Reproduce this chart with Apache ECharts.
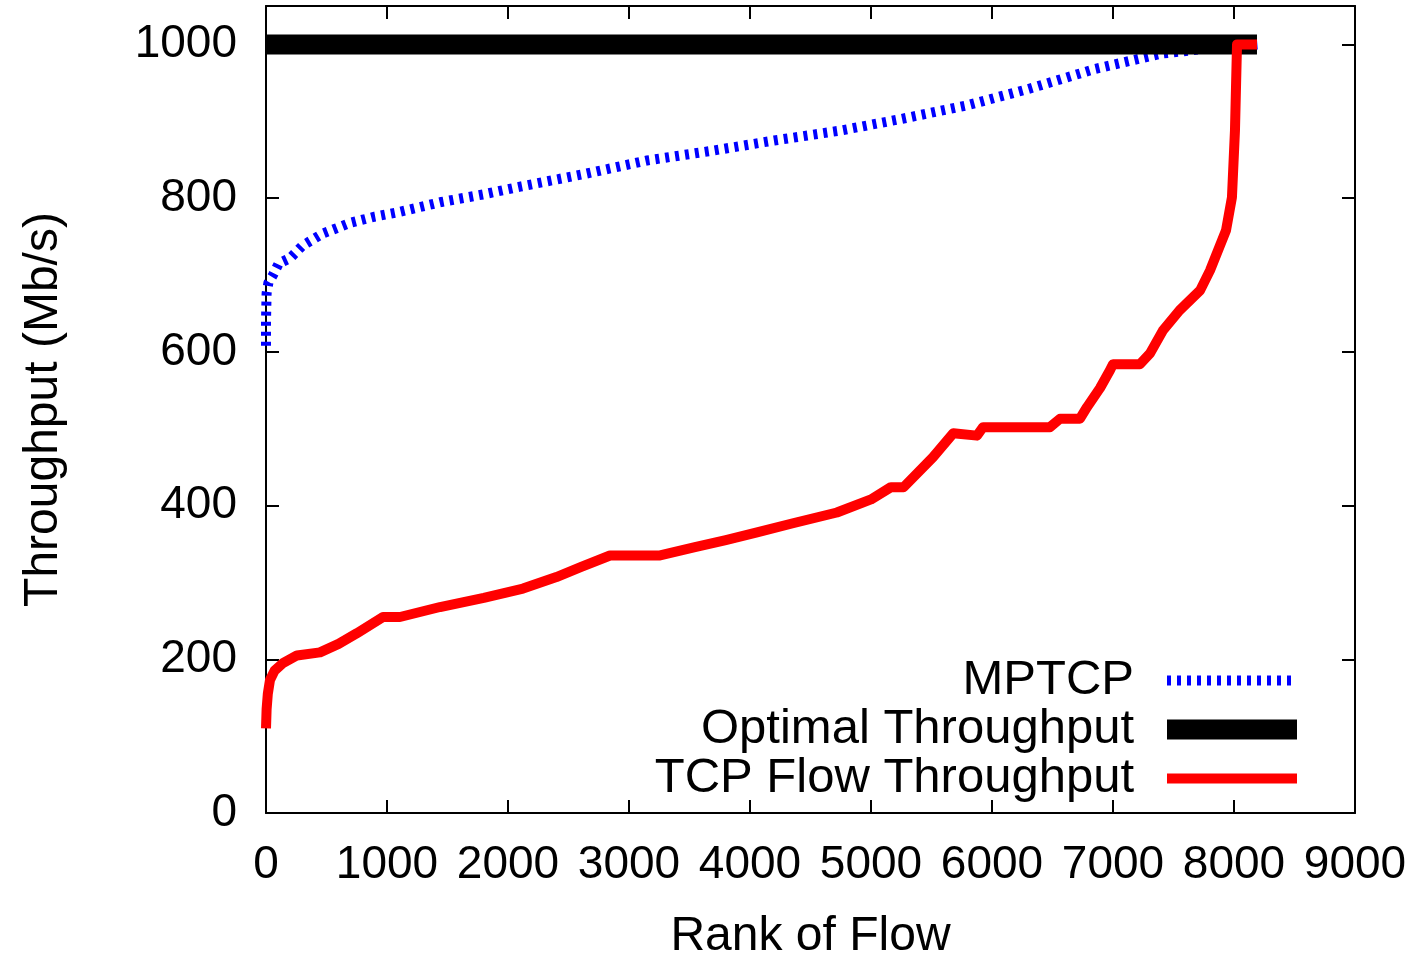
<!DOCTYPE html>
<html>
<head>
<meta charset="utf-8">
<title>Throughput by flow rank</title>
<script src="https://cdn.jsdelivr.net/npm/echarts@6/dist/echarts.min.js"></script>
<style>
  html, body { margin: 0; padding: 0; background: #fff; }
  #chart { width: 1422px; height: 954px; }
</style>
</head>
<body>
<div id="chart"></div>
<script>
// values
const mptcpRank = [0, 0, 5, 20, 58, 105, 200, 300, 470, 700, 900, 1100, 1450, 1800, 2100, 2650, 3150, 3700, 4200, 4750, 5250, 5800, 6300, 6850, 7400, 7800, 8200];
const mptcpThroughput = [608, 640, 676, 690, 700, 715, 722, 738, 754, 768, 776, 782, 795, 805, 815, 832, 849, 862, 875, 888, 903, 921, 942, 968, 988, 995, 1000];

const optimalRank = [0, 8190];
const optimalThroughput = [1000, 1000];

const tcpRank = [0, 5, 15, 33, 70, 140, 256, 446, 600, 752, 967, 1107, 1438, 1800, 2124, 2400, 2600, 2843, 3248, 3545, 3800, 4058, 4355, 4718, 5000, 5165, 5270, 5512, 5680, 5876, 5926, 6479, 6562, 6727, 6785, 6893, 6975, 7000, 7223, 7306, 7413, 7550, 7720, 7802, 7934, 7983, 8008, 8025, 8190];
const tcpThroughput = [110, 135, 155, 173, 185, 195, 205, 209, 220, 234, 255, 255, 268, 280, 292, 307, 320, 335, 335, 346, 355, 365, 377, 391, 408, 424, 424, 463, 494, 491, 502, 502, 513, 513, 528, 553, 576, 584, 584, 598, 628, 654, 680, 706, 758, 801, 888, 1000, 1000];

const seriesNames = ['MPTCP', 'Optimal Throughput', 'TCP Flow Throughput'];

const font = 'Liberation Sans';

const pairs = (xs, ys) => xs.map((x, i) => [x, ys[i]]);

const chart = echarts.init(document.getElementById('chart'));

// gnuplot style frame: ticks point inwards on all four sides
const frameLine = () => ({ show: true, onZero: false, lineStyle: { color: '#000', width: 2 } });
const frameTick = () => ({ show: true, inside: true, length: 13, lineStyle: { color: '#000', width: 2 } });

chart.setOption({
  animation: false,
  textStyle: { fontFamily: font },
  grid: { left: 266, right: 67, top: 6, bottom: 141, containLabel: false, outerBoundsMode: 'none' },
  legend: {
    data: seriesNames,
    orient: 'vertical',
    align: 'right',
    right: 115,
    top: 656,
    padding: 0,
    itemWidth: 130,
    itemHeight: 20,
    itemGap: 0,
    selectedMode: false,
    lineStyle: { width: 'inherit' },
    itemStyle: { opacity: 0 },
    textStyle: { fontFamily: font, fontSize: 49, color: '#000', padding: [0, 28, 0, 0] }
  },
  xAxis: [
    {
      type: 'value', min: 0, max: 9000, interval: 1000,
      name: 'Rank of Flow', nameLocation: 'middle', nameGap: 100,
      nameTextStyle: { fontFamily: font, fontSize: 48, color: '#000' },
      axisLine: frameLine(), axisTick: frameTick(),
      axisLabel: { fontFamily: font, fontSize: 46, color: '#000', margin: 29, formatter: v => String(v) },
      splitLine: { show: false }
    },
    {
      type: 'value', min: 0, max: 9000, interval: 1000, position: 'top',
      axisLine: frameLine(), axisTick: frameTick(),
      axisLabel: { show: false }, splitLine: { show: false }
    }
  ],
  yAxis: [
    {
      type: 'value', min: 0, max: 1050, interval: 200,
      name: 'Throughput (Mb/s)', nameLocation: 'middle', nameGap: 198, nameRotate: 90,
      nameTextStyle: { fontFamily: font, fontSize: 48, color: '#000' },
      axisLine: frameLine(), axisTick: frameTick(),
      axisLabel: {
        fontFamily: font, fontSize: 46, color: '#000', margin: 29,
        formatter: v => (v % 200 === 0 ? String(v) : '')
      },
      splitLine: { show: false }
    },
    {
      type: 'value', min: 0, max: 1050, interval: 200, position: 'right',
      axisLine: frameLine(), axisTick: frameTick(),
      axisLabel: { show: false }, splitLine: { show: false }
    }
  ],
  series: [
    {
      name: seriesNames[0], type: 'line', symbol: 'none', showSymbol: false,
      data: pairs(mptcpRank, mptcpThroughput),
      color: '#0000ff',
      lineStyle: { color: '#0000ff', width: 10, type: [4, 6] }
    },
    {
      name: seriesNames[1], type: 'line', symbol: 'none', showSymbol: false,
      data: pairs(optimalRank, optimalThroughput),
      color: '#000000',
      lineStyle: { color: '#000000', width: 20 }
    },
    {
      name: seriesNames[2], type: 'line', symbol: 'none', showSymbol: false,
      data: pairs(tcpRank, tcpThroughput),
      color: '#ff0000',
      lineStyle: { color: '#ff0000', width: 10, join: 'round' }
    }
  ]
});
</script>
</body>
</html>
